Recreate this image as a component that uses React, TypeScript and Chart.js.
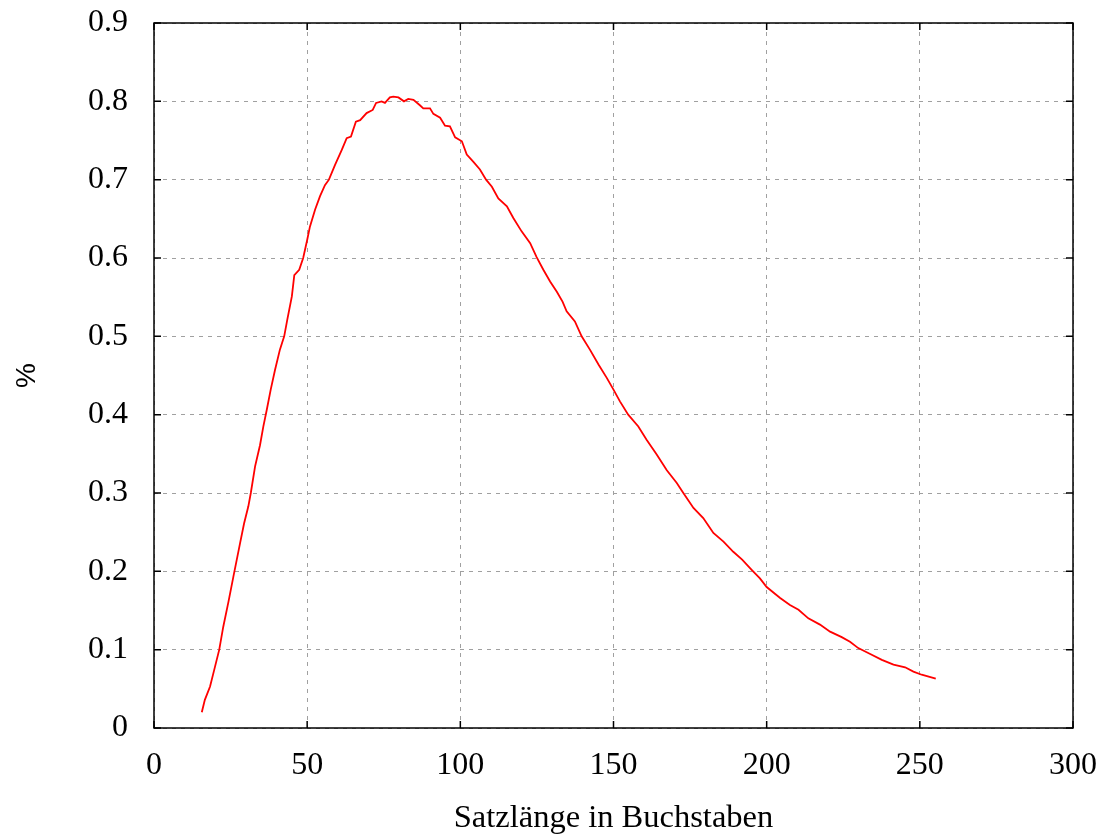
import React, { useEffect, useRef } from "react";
import { Chart, registerables } from "chart.js";

Chart.register(...registerables);

const lengths = [
  15.6, 16.6, 18.3, 19.9, 21.3, 22.6, 24.3, 25.9, 28.1, 29.4, 30.8, 31.6, 33.0, 34.6, 35.7, 36.8,
  38.1, 39.5, 41.1, 42.5, 43.5, 45.0, 45.8, 47.4, 48.7, 50.0, 50.9, 52.6, 54.2, 55.8, 57.1, 59.1,
  61.3, 62.9, 64.3, 65.9, 67.3, 69.4, 71.4, 72.5, 74.3, 75.4, 77.0, 78.1, 79.8, 81.6, 83.0, 84.7,
  86.8, 87.9, 90.1, 91.2, 93.4, 95.0, 96.6, 98.3, 100.5, 102.1, 104.2, 106.4, 108.4, 110.3, 112.4,
  115.2, 117.3, 120.0, 122.8, 124.9, 127.1, 129.3, 131.5, 133.4, 134.7, 137.4, 139.6, 142.3, 145.1,
  147.8, 150.0, 152.1, 154.8, 158.1, 160.8, 164.1, 167.4, 170.6, 172.8, 176.1, 179.3, 182.6, 185.9,
  189.1, 192.0, 195.1, 197.8, 200.0, 204.4, 207.6, 210.4, 213.6, 217.4, 220.7, 224.5, 227.2, 229.9,
  233.8, 237.6, 241.4, 245.2, 247.9, 250.6, 255.2,
];

const percents = [
  0.020, 0.036, 0.053, 0.078, 0.100, 0.129, 0.161, 0.193, 0.236, 0.261, 0.283, 0.300, 0.334, 0.361, 0.385, 0.406,
  0.432, 0.457, 0.483, 0.500, 0.521, 0.551, 0.578, 0.585, 0.600, 0.623, 0.640, 0.662, 0.679, 0.693, 0.700, 0.719,
  0.738, 0.753, 0.755, 0.774, 0.776, 0.785, 0.789, 0.798, 0.800, 0.798, 0.805, 0.806, 0.805, 0.800, 0.803, 0.802,
  0.795, 0.791, 0.791, 0.784, 0.779, 0.769, 0.768, 0.754, 0.749, 0.732, 0.723, 0.713, 0.700, 0.691, 0.676,
  0.666, 0.651, 0.634, 0.619, 0.601, 0.585, 0.570, 0.557, 0.544, 0.532, 0.519, 0.500, 0.483, 0.464,
  0.447, 0.432, 0.417, 0.400, 0.385, 0.368, 0.349, 0.329, 0.313, 0.300, 0.281, 0.268, 0.249, 0.238,
  0.225, 0.215, 0.202, 0.191, 0.180, 0.166, 0.157, 0.151, 0.140, 0.132, 0.123, 0.116, 0.110, 0.102,
  0.0945, 0.087, 0.081, 0.0775, 0.072, 0.068, 0.063,
];

const xTickValues = [0, 50, 100, 150, 200, 250, 300];
const yTickValues = [0, 0.1, 0.2, 0.3, 0.4, 0.5, 0.6, 0.7, 0.8, 0.9];
const yTickLabels = ["0", "0.1", "0.2", "0.3", "0.4", "0.5", "0.6", "0.7", "0.8", "0.9"];
const xTitle = "Satzlänge in Buchstaben";
const yTitle = "%";

const SERIF = "'Liberation Serif', 'Times New Roman', serif";

const frame = {
  id: "gnuplotFrame",
  afterDraw(chart: any) {
    const { ctx, chartArea } = chart;
    const { left, right, top, bottom } = chartArea;
    const xs = chart.scales.x;
    const ys = chart.scales.y;
    const tl = 7;
    ctx.save();
    ctx.strokeStyle = "#000";
    ctx.lineWidth = 1.5;
    ctx.beginPath();
    xs.ticks.forEach((t: any) => {
      const px = xs.getPixelForValue(t.value);
      ctx.moveTo(px, bottom);
      ctx.lineTo(px, bottom - tl);
      ctx.moveTo(px, top);
      ctx.lineTo(px, top + tl);
    });
    ys.ticks.forEach((t: any) => {
      const py = ys.getPixelForValue(t.value);
      ctx.moveTo(left, py);
      ctx.lineTo(left + tl, py);
      ctx.moveTo(right, py);
      ctx.lineTo(right - tl, py);
    });
    ctx.stroke();
    ctx.strokeRect(left, top, right - left, bottom - top);
    ctx.restore();
  },
};

export default function App() {
  const ref = useRef<HTMLCanvasElement | null>(null);
  useEffect(() => {
    if (!ref.current) return;
    const chart = new Chart(ref.current, {
      type: "line",
      data: {
        datasets: [
          {
            data: lengths.map((x, i) => ({ x, y: percents[i] })),
            borderColor: "#ff0000",
            borderWidth: 1.8,
            pointRadius: 0,
            tension: 0,
            fill: false,
          },
        ],
      },
      options: {
        animation: false,
        responsive: false,
        maintainAspectRatio: false,
        layout: { padding: { left: 0, top: 23, right: 28, bottom: 0 } },
        plugins: { legend: { display: false }, tooltip: { enabled: false } },
        scales: {
          x: {
            type: "linear",
            min: 0,
            max: 300,
            afterFit: (s: any) => {
              s.height = 110;
              s.paddingLeft = 0;
              s.paddingRight = 0;
            },
            afterBuildTicks: (s: any) => {
              s.ticks = xTickValues.map((v) => ({ value: v }));
            },
            ticks: {
              padding: 18,
              color: "#000",
              maxRotation: 0,
              font: { family: SERIF, size: 32 },
              callback: (v: any) => String(v),
            },
            grid: { color: "#a0a0a0", lineWidth: 1, drawTicks: false },
            border: { display: false, dash: [4, 5] },
            title: {
              display: true,
              text: xTitle,
              color: "#000",
              font: { family: SERIF, size: 32.5 },
              padding: { top: 0, bottom: 0 },
            },
          },
          y: {
            type: "linear",
            min: 0,
            max: 0.9,
            afterFit: (s: any) => {
              s.width = 154;
              s.paddingTop = 0;
              s.paddingBottom = 0;
            },
            afterBuildTicks: (s: any) => {
              s.ticks = yTickValues.map((v) => ({ value: v }));
            },
            ticks: {
              padding: 26,
              color: "#000",
              font: { family: SERIF, size: 32 },
              callback: (_v: any, i: number) => yTickLabels[i],
            },
            grid: { color: "#a0a0a0", lineWidth: 1, drawTicks: false },
            border: { display: false, dash: [4, 5] },
            title: {
              display: true,
              text: yTitle,
              color: "#000",
              font: { family: "'Liberation Sans', Arial, sans-serif", size: 28 },
              padding: { top: 10, bottom: 0 },
            },
          },
        },
      },
      plugins: [frame],
    });
    return () => chart.destroy();
  }, []);
  return (
    <div style={{ position: "absolute", left: 0, top: 0, width: 1101, height: 838, background: "#fff" }}>
      <canvas ref={ref} width={1101} height={838} style={{ display: "block" }} />
    </div>
  );
}
